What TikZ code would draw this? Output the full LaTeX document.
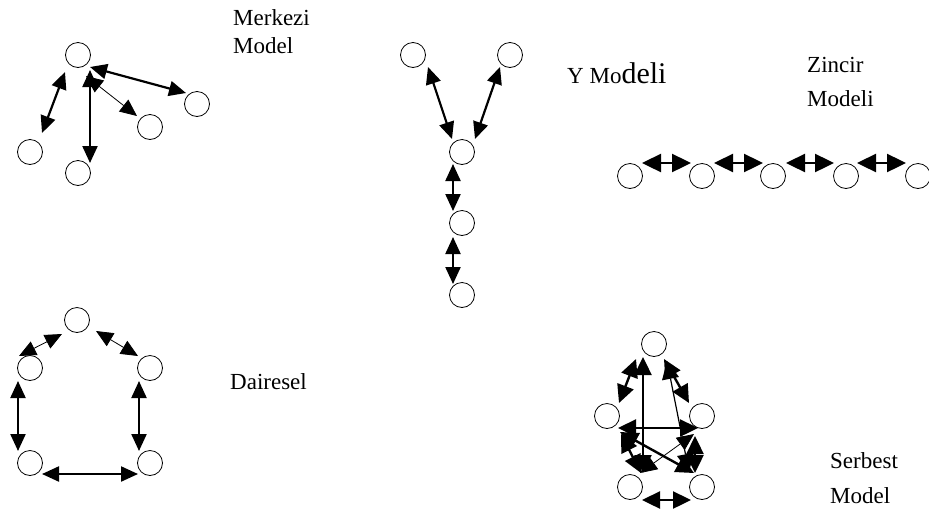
\documentclass[tikz,border=0pt]{standalone}
\usepackage{fontspec}
\setmainfont{Liberation Serif}
\usetikzlibrary{arrows.meta}

\tikzset{
  station/.style={circle, draw, line width=0.8pt, minimum size=25pt, inner sep=0pt},
  head/.style={{Triangle[length=17pt,width=15pt]}-{Triangle[length=17pt,width=15pt]}},
  link/.style={line width=2.2pt, head},
  thinlink/.style={line width=0.8pt, head},
  biglink/.style={line width=2.4pt, {Triangle[length=19pt,width=18pt]}-{Triangle[length=19pt,width=18pt]}},
  freelink/.style={line width=2.4pt, {Triangle[length=18pt,width=17pt]}-{Triangle[length=18pt,width=17pt]}},
  label/.style={anchor=base west, inner sep=0pt, font=\fontsize{23}{23}\selectfont}
}

\begin{document}
\begin{tikzpicture}[x=1pt, y=-1pt]
\useasboundingbox (0,0) rectangle (929,515);

% ---------- Merkezi model (star) ----------
\node[station] (mT) at (78,55) {};
\node[station] (mR) at (197,104) {};
\node[station] (mM) at (150,127) {};
\node[station] (mL) at (30,152) {};
\node[station] (mB) at (78,173) {};
\coordinate (mTa) at (65,72);   \coordinate (mLa) at (42,133);
\coordinate (mTb) at (90,70);   \coordinate (mBb) at (90,163);
\coordinate (mTc) at (90,67);   \coordinate (mRc) at (186,93);
\coordinate (mTd) at (86,76);   \coordinate (mMd) at (137,116);
\draw[link] (mTa) -- (mLa);
\draw[link] (mTb) -- (mBb);
\draw[link] (mTc) -- (mRc);
\draw[thinlink] (mTd) -- (mMd);
\node[label] (mText1) at (233,25) {Merkezi};
\node[label] (mText2) at (233,53) {Model};

% ---------- Y model ----------
\node[station] (yTL) at (413,55) {};
\node[station] (yTR) at (510,55) {};
\node[station] (yM) at (462,152) {};
\node[station] (yL) at (462,223) {};
\node[station] (yB) at (462,295) {};
\coordinate (yTLa) at (428,67);  \coordinate (yMa) at (452,139);
\coordinate (yTRb) at (500,67);  \coordinate (yMb) at (475,139);
\coordinate (yMc) at (453,164);  \coordinate (yLc) at (453,211);
\coordinate (yLd) at (453,237);  \coordinate (yBd) at (453,284);
\draw[link] (yTLa) -- (yMa);
\draw[link] (yTRb) -- (yMb);
\draw[link] (yMc) -- (yLc);
\draw[link] (yLd) -- (yBd);
\node[label] (yText) at (567,83) {Y Mo\fontsize{30}{30}\selectfont deli};

% ---------- Zincir model (chain) ----------
\foreach \i/\x in {1/630, 2/702, 3/773, 4/846, 5/918}
  \node[station] (z\i) at (\x,176) {};
\coordinate (z1r) at (642,163);  \coordinate (z2l) at (691,163);
\coordinate (z2r) at (714,163);  \coordinate (z3l) at (763,163);
\coordinate (z3r) at (786,163);  \coordinate (z4l) at (834,163);
\coordinate (z4r) at (857,163);  \coordinate (z5l) at (906,163);
\draw[biglink] (z1r) -- (z2l);
\draw[biglink] (z2r) -- (z3l);
\draw[biglink] (z3r) -- (z4l);
\draw[biglink] (z4r) -- (z5l);
\node[label] (zText1) at (807,72) {Zincir};
\node[label] (zText2) at (807,106) {Modeli};

% ---------- Dairesel (circle) ----------
\node[station] (dT) at (77,320) {};
\node[station] (dUL) at (30,368) {};
\node[station] (dUR) at (150,368) {};
\node[station] (dLL) at (30,463) {};
\node[station] (dLR) at (150,463) {};
\coordinate (dULa) at (19,356);  \coordinate (dTa) at (62,334);
\coordinate (dTb) at (96,331);   \coordinate (dURb) at (138,356);
\coordinate (dULc) at (18,381);  \coordinate (dLLc) at (18,451);
\coordinate (dURd) at (139,381); \coordinate (dLRd) at (139,451);
\coordinate (dLLe) at (42,474);  \coordinate (dLRe) at (138,474);
\draw[thinlink] (dULa) -- (dTa);
\draw[thinlink] (dTb) -- (dURb);
\draw[link] (dULc) -- (dLLc);
\draw[link] (dURd) -- (dLRd);
\draw[link] (dLLe) -- (dLRe);
\node[label] (dText) at (230,389) {Dairesel};

% ---------- Serbest model (all-to-all) ----------
\node[station] (sT) at (654,344) {};
\node[station] (sL) at (607,416) {};
\node[station] (sR) at (702,416) {};
\node[station] (sBL) at (630,487) {};
\node[station] (sBR) at (702,487) {};
\coordinate (sTa) at (636,359);  \coordinate (sLa) at (619,403);
\coordinate (sTb) at (664,359);  \coordinate (sRb) at (689,403);
\coordinate (sTc) at (643,357);  \coordinate (sBLc) at (643,473);
\coordinate (sTd) at (667,361);  \coordinate (sBRd) at (689,472);
\coordinate (sLe) at (618,428);  \coordinate (sRe) at (698,428);
\coordinate (sLf) at (620,432);  \coordinate (sBRf) at (694,473);
\coordinate (sLg) at (621,434);  \coordinate (sBLg) at (641,473);
\coordinate (sRh) at (694,434);  \coordinate (sBLh) at (640,473);
\coordinate (sRi) at (695,436);  \coordinate (sBRi) at (695,473);
\coordinate (sBLj) at (642,500); \coordinate (sBRj) at (691,500);
\draw[freelink] (sTa) -- (sLa);
\draw[freelink] (sTb) -- (sRb);
\draw[freelink] (sTc) -- (sBLc);
\draw[freelink, line width=1.2pt] (sTd) -- (sBRd);
\draw[freelink] (sLe) -- (sRe);
\draw[freelink] (sLf) -- (sBRf);
\draw[freelink] (sLg) -- (sBLg);
\draw[thinlink] (sRh) -- (sBLh);
\draw[freelink] (sRi) -- (sBRi);
\draw[freelink] (sBLj) -- (sBRj);
\node[label] (sText1) at (830,468) {Serbest};
\node[label] (sText2) at (830,503) {Model};
\end{tikzpicture}
\end{document}
